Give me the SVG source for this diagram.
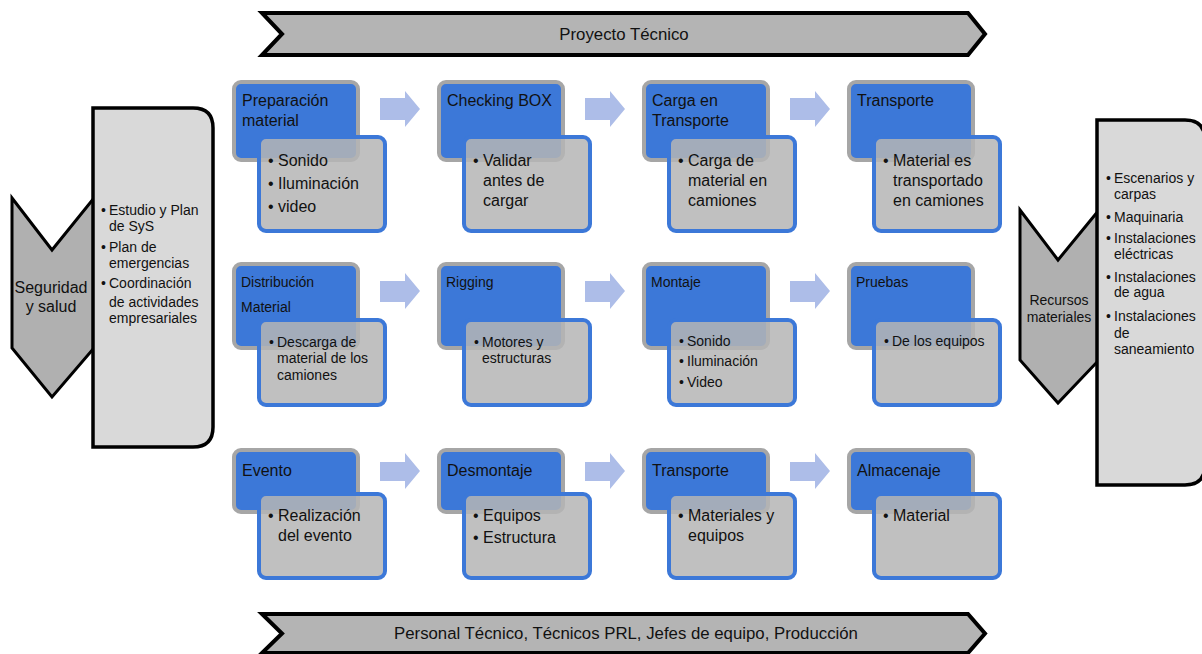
<svg xmlns="http://www.w3.org/2000/svg" width="1202" height="654" viewBox="0 0 1202 654">
<defs>
<style>
text{font-family:"Liberation Sans",Arial,sans-serif;fill:#111;}
.banner{fill:#b4b4b4;stroke:#000;stroke-width:4;stroke-linejoin:miter;}
.chev{fill:#b0b0b0;stroke:#000;stroke-width:3;stroke-linejoin:miter;}
.panel{fill:#d9d9d9;stroke:#000;stroke-width:3.5;}
.hd{fill:#3c78d8;stroke:#a6a6a6;stroke-width:4;}
.sub{fill:#b5b5b5;fill-opacity:0.85;stroke:#3c78d8;stroke-width:4;}
.arr{fill:#adbde8;}
.t16{font-size:16px;}
.t14{font-size:14px;}
.tb{font-size:16.8px;}
.mid{text-anchor:middle;}
</style>
</defs>
<rect width="1202" height="654" fill="#fff"/>

<g id="banner-top">
<polygon class="banner" points="262,13 968,13 985,34 968,55 262,55 282,34"/>
<text class="tb mid" x="624" y="40">Proyecto Técnico</text>
</g>

<g id="banner-bottom">
<polygon class="banner" points="262,614 968,614 985,633.5 968,653 262,653 282,633.5"/>
<text class="tb mid" x="626" y="639">Personal Técnico, Técnicos PRL, Jefes de equipo, Producción</text>
</g>

<g id="seguridad">
<polygon class="chev" points="12,198 52,250 94,198 94,348 52,397 12,348"/>
<path class="panel" d="M93,108 H193 Q213,108 213,128 V427 Q213,447 193,447 H93 Z"/>
<text class="t16 mid" x="51" y="293">Seguridad</text>
<text class="t16 mid" x="51" y="312">y salud</text>
<text class="t14"><tspan x="101" y="215">•</tspan><tspan x="109" y="215">Estudio y Plan</tspan><tspan x="109" y="231">de SyS</tspan><tspan x="101" y="252">•</tspan><tspan x="109" y="252">Plan de</tspan><tspan x="109" y="268">emergencias</tspan><tspan x="101" y="288">•</tspan><tspan x="109" y="288">Coordinación</tspan><tspan x="109" y="307">de actividades</tspan><tspan x="109" y="323">empresariales</tspan></text>
</g>

<g id="recursos">
<polygon class="chev" points="1020,210 1058,260 1099,210 1099,360 1058,403 1020,360"/>
<path class="panel" d="M1097,120 H1185 Q1205,120 1205,140 V465 Q1205,485 1185,485 H1097 Z"/>
<text class="t14 mid" x="1059" y="305">Recursos</text>
<text class="t14 mid" x="1059" y="322">materiales</text>
<text class="t14"><tspan x="1106" y="183">•</tspan><tspan x="1114" y="183">Escenarios y</tspan><tspan x="1114" y="199">carpas</tspan><tspan x="1106" y="222">•</tspan><tspan x="1114" y="222">Maquinaria</tspan><tspan x="1106" y="243">•</tspan><tspan x="1114" y="243">Instalaciones</tspan><tspan x="1114" y="259">eléctricas</tspan><tspan x="1106" y="282">•</tspan><tspan x="1114" y="282">Instalaciones</tspan><tspan x="1114" y="297">de agua</tspan><tspan x="1106" y="321">•</tspan><tspan x="1114" y="321">Instalaciones</tspan><tspan x="1114" y="338">de</tspan><tspan x="1114" y="354">saneamiento</tspan></text>
</g>

<g id="connectors">
<polygon class="arr" points="380,98 405,98 405,91 420,109 405,127 405,120 380,120"/>
<polygon class="arr" points="585,98 610,98 610,91 625,109 610,127 610,120 585,120"/>
<polygon class="arr" points="790,98 815,98 815,91 830,109 815,127 815,120 790,120"/>
<polygon class="arr" points="380,281 405,281 405,273 420,291 405,309 405,302 380,302"/>
<polygon class="arr" points="585,281 610,281 610,273 625,291 610,309 610,302 585,302"/>
<polygon class="arr" points="790,281 815,281 815,273 830,291 815,309 815,302 790,302"/>
<polygon class="arr" points="380,462 405,462 405,453 420,471 405,489 405,481 380,481"/>
<polygon class="arr" points="585,462 610,462 610,453 625,471 610,489 610,481 585,481"/>
<polygon class="arr" points="790,462 815,462 815,453 830,471 815,489 815,481 790,481"/>
</g>

<!-- Row 1 -->
<g id="n-preparacion">
<rect class="hd" x="234" y="82" width="124" height="78" rx="7"/>
<rect class="sub" x="259" y="137" width="126" height="94" rx="7"/>
<text class="t16" x="242" y="106">Preparación</text>
<text class="t16" x="242" y="126">material</text>
<text class="t16"><tspan x="268" y="166">•</tspan><tspan x="278" y="166">Sonido</tspan><tspan x="268" y="189">•</tspan><tspan x="278" y="189">Iluminación</tspan><tspan x="268" y="212">•</tspan><tspan x="278" y="212">video</tspan></text>
</g>
<g id="n-checking">
<rect class="hd" x="439" y="82" width="124" height="78" rx="7"/>
<rect class="sub" x="464" y="137" width="126" height="94" rx="7"/>
<text class="t16" x="447" y="106">Checking BOX</text>
<text class="t16"><tspan x="473" y="166">•</tspan><tspan x="483" y="166">Validar</tspan><tspan x="483" y="186">antes de</tspan><tspan x="483" y="206">cargar</tspan></text>
</g>
<g id="n-carga">
<rect class="hd" x="644" y="82" width="124" height="78" rx="7"/>
<rect class="sub" x="669" y="137" width="126" height="94" rx="7"/>
<text class="t16" x="652" y="106">Carga en</text>
<text class="t16" x="652" y="126">Transporte</text>
<text class="t16"><tspan x="678" y="166">•</tspan><tspan x="688" y="166">Carga de</tspan><tspan x="688" y="186">material en</tspan><tspan x="688" y="206">camiones</tspan></text>
</g>
<g id="n-transporte1">
<rect class="hd" x="849" y="82" width="124" height="78" rx="7"/>
<rect class="sub" x="874" y="137" width="126" height="94" rx="7"/>
<text class="t16" x="857" y="106">Transporte</text>
<text class="t16"><tspan x="883" y="166">•</tspan><tspan x="893" y="166">Material es</tspan><tspan x="893" y="186">transportado</tspan><tspan x="893" y="206">en camiones</tspan></text>
</g>

<!-- Row 2 -->
<g id="n-distribucion">
<rect class="hd" x="234" y="264" width="124" height="84" rx="7"/>
<rect class="sub" x="259" y="320" width="126" height="85" rx="7"/>
<text class="t14" x="241" y="287">Distribución</text>
<text class="t14" x="241" y="312">Material</text>
<text class="t14"><tspan x="269" y="347">•</tspan><tspan x="277" y="347">Descarga de</tspan><tspan x="277" y="363">material de los</tspan><tspan x="277" y="380">camiones</tspan></text>
</g>
<g id="n-rigging">
<rect class="hd" x="439" y="264" width="124" height="84" rx="7"/>
<rect class="sub" x="464" y="320" width="126" height="85" rx="7"/>
<text class="t14" x="446" y="287">Rigging</text>
<text class="t14"><tspan x="474" y="347">•</tspan><tspan x="482" y="347">Motores y</tspan><tspan x="482" y="363">estructuras</tspan></text>
</g>
<g id="n-montaje">
<rect class="hd" x="644" y="264" width="124" height="84" rx="7"/>
<rect class="sub" x="669" y="320" width="126" height="85" rx="7"/>
<text class="t14" x="651" y="287">Montaje</text>
<text class="t14"><tspan x="679" y="346">•</tspan><tspan x="687" y="346">Sonido</tspan><tspan x="679" y="366">•</tspan><tspan x="687" y="366">Iluminación</tspan><tspan x="679" y="387">•</tspan><tspan x="687" y="387">Video</tspan></text>
</g>
<g id="n-pruebas">
<rect class="hd" x="849" y="264" width="124" height="84" rx="7"/>
<rect class="sub" x="874" y="320" width="126" height="85" rx="7"/>
<text class="t14" x="856" y="287">Pruebas</text>
<text class="t14"><tspan x="884" y="346">•</tspan><tspan x="892" y="346">De los equipos</tspan></text>
</g>

<!-- Row 3 -->
<g id="n-evento">
<rect class="hd" x="234" y="450" width="124" height="62" rx="7"/>
<rect class="sub" x="259" y="494" width="126" height="84" rx="7"/>
<text class="t16" x="242" y="476">Evento</text>
<text class="t16"><tspan x="268" y="521">•</tspan><tspan x="278" y="521">Realización</tspan><tspan x="278" y="541">del evento</tspan></text>
</g>
<g id="n-desmontaje">
<rect class="hd" x="439" y="450" width="124" height="62" rx="7"/>
<rect class="sub" x="464" y="494" width="126" height="84" rx="7"/>
<text class="t16" x="447" y="476">Desmontaje</text>
<text class="t16"><tspan x="473" y="521">•</tspan><tspan x="483" y="521">Equipos</tspan><tspan x="473" y="543">•</tspan><tspan x="483" y="543">Estructura</tspan></text>
</g>
<g id="n-transporte2">
<rect class="hd" x="644" y="450" width="124" height="62" rx="7"/>
<rect class="sub" x="669" y="494" width="126" height="84" rx="7"/>
<text class="t16" x="652" y="476">Transporte</text>
<text class="t16"><tspan x="678" y="521">•</tspan><tspan x="688" y="521">Materiales y</tspan><tspan x="688" y="541">equipos</tspan></text>
</g>
<g id="n-almacenaje">
<rect class="hd" x="849" y="450" width="124" height="62" rx="7"/>
<rect class="sub" x="874" y="494" width="126" height="84" rx="7"/>
<text class="t16" x="857" y="476">Almacenaje</text>
<text class="t16"><tspan x="883" y="521">•</tspan><tspan x="893" y="521">Material</tspan></text>
</g>
</svg>
